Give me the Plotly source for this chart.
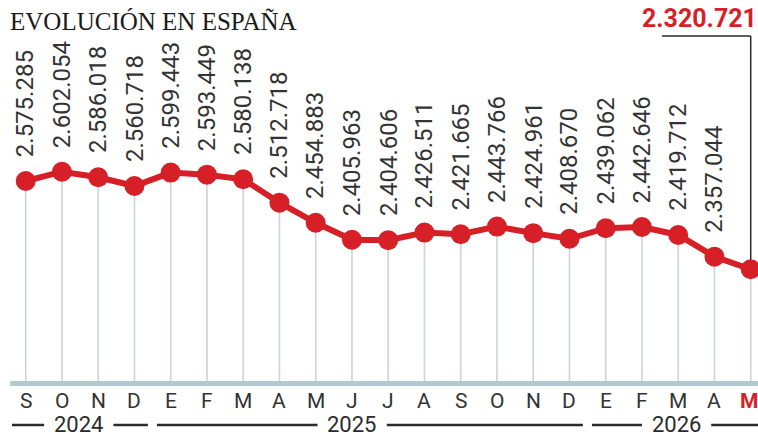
import plotly.graph_objects as go

# data
months = ["S", "O", "N", "D", "E", "F", "M", "A", "M", "J", "J", "A",
          "S", "O", "N", "D", "E", "F", "M", "A", "M"]
values = [2575285, 2602054, 2586018, 2560718, 2599443, 2593449, 2580138,
          2512718, 2454883, 2405963, 2404606, 2426511, 2421665, 2443766,
          2424961, 2408670, 2439062, 2442646, 2419712, 2357044, 2320721]
years = ["2024", "2025", "2026"]
year_first = [0, 4, 16]
year_last = [3, 15, 20]

RED = "#d71f27"
GRID = "#cbd4d9"
BASE = "#b3c9cf"
INK = "#2b2b2b"
LABEL_FONT = "Liberation Sans Narrow, Roboto, Arial Narrow, sans-serif"

W, H = 758, 438
T, B = 0, 52
PH = H - T - B
Y_MIN, Y_MAX = 1984290, 3097000
X_MIN, X_MAX = -0.709, 20.201
PX_PER_UNIT = (Y_MAX - Y_MIN) / PH

n = len(values)
xs = list(range(n))


def fmt(v):
    return f"{v:,}".replace(",", ".")


fig = go.Figure()

# light vertical drop lines from each point to the baseline
fig.add_trace(go.Scatter(
    x=xs, y=values, mode="markers",
    marker=dict(size=1, color="rgba(0,0,0,0)"),
    error_y=dict(type="data", symmetric=False, array=[0] * n,
                 arrayminus=[v - Y_MIN for v in values],
                 color=GRID, thickness=1.6, width=0),
    hoverinfo="skip", showlegend=False,
))

fig.add_trace(go.Scatter(
    x=xs, y=values, mode="lines+markers",
    line=dict(color=RED, width=6),
    marker=dict(color=RED, size=20),
    hoverinfo="skip", showlegend=False,
))

# rotated value labels (last one is shown on top)
annotations = []
for i, v in enumerate(values[:-1]):
    annotations.append(dict(
        x=i, y=v, xref="x", yref="y", text=fmt(v), textangle=-90,
        showarrow=False, xanchor="center", yanchor="bottom", yshift=22,
        font=dict(family=LABEL_FONT, size=24, color="#333333"),
    ))

annotations.append(dict(
    x=n - 1, y=(PH - 19) / PH, xref="x", yref="paper",
    text=f"<b>{fmt(values[-1])}</b>", showarrow=False,
    xanchor="right", yanchor="middle", xshift=8,
    font=dict(family=LABEL_FONT, size=25, color=RED),
))

# month labels; the current month is highlighted in red
month_y = -(401 - (H - B)) / PH
for i, m in enumerate(months):
    last = i == n - 1
    annotations.append(dict(
        x=i, y=month_y, xref="x", yref="paper",
        text=f"<b>{m}</b>" if last else m, showarrow=False,
        xanchor="center", yanchor="middle", xshift=-2 if last else 0,
        font=dict(family=LABEL_FONT, size=21,
                  color=RED if last else "#333333"),
    ))

# years with rules on both sides
yr_y = -(425 - (H - B)) / PH
shapes = []
year_x = [1.45, 8.99, 17.94]
for label, a, b, cx in zip(years, year_first, year_last, year_x):
    annotations.append(dict(
        x=cx, y=yr_y, xref="x", yref="paper", text=label, showarrow=False,
        xanchor="center", yanchor="middle",
        font=dict(family=LABEL_FONT, size=22, color=INK),
    ))
    for x0, x1 in [(a - 0.38, cx - 0.94), (cx + 0.97, b + 0.37)]:
        shapes.append(dict(type="line", xref="x", yref="paper",
                           x0=x0, x1=x1, y0=yr_y, y1=yr_y,
                           line=dict(color=INK, width=2.5)))

# baseline band
shapes.append(dict(type="rect", xref="x", yref="y",
                   x0=-0.43, x1=X_MAX, y0=Y_MIN, y1=Y_MIN + 5 * PX_PER_UNIT,
                   fillcolor=BASE, line=dict(width=0), layer="above"))

# callout for the latest value
top_y = Y_MIN + (PH - 36) * PX_PER_UNIT
shapes.append(dict(type="line", xref="x", yref="y",
                   x0=17.55, x1=n - 1, y0=top_y, y1=top_y,
                   line=dict(color=INK, width=1.5)))
shapes.append(dict(type="line", xref="x", yref="y",
                   x0=n - 1, x1=n - 1, y0=top_y, y1=values[-1],
                   line=dict(color=INK, width=1.5), layer="below"))

fig.update_layout(
    width=W, height=H,
    margin=dict(l=0, r=0, t=T, b=B),
    paper_bgcolor="white", plot_bgcolor="white",
    title=dict(text="EVOLUCIÓN EN ESPAÑA", x=10 / W, xanchor="left",
               y=1 - 12 / H, yanchor="top",
               font=dict(family="Liberation Serif, serif",
                         size=25, color="#1a1a1a")),
    xaxis=dict(range=[X_MIN, X_MAX], showticklabels=False,
               showgrid=False, zeroline=False, showline=False, ticks=""),
    yaxis=dict(range=[Y_MIN, Y_MAX], visible=False, showgrid=False),
    annotations=annotations,
    shapes=shapes,
    showlegend=False,
    hovermode=False,
)

fig.write_html("out.html", config={"displayModeBar": False},
               post_script="document.body.style.margin='0';")
